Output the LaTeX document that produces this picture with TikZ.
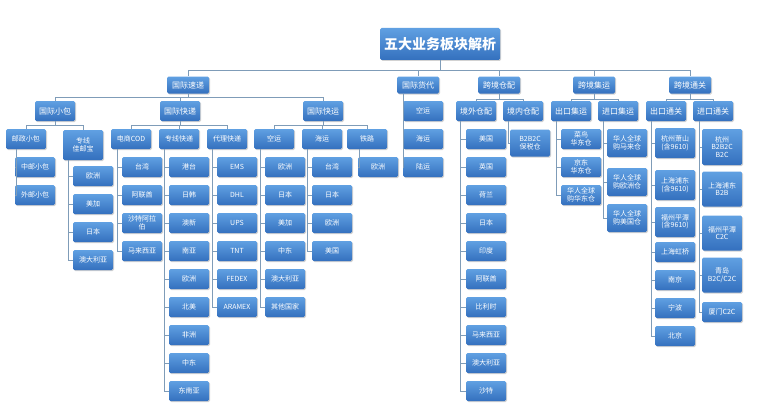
\documentclass[tikz,border=0pt]{standalone}
\usepackage{fontspec}
\setmainfont{Noto Sans CJK SC}
\usetikzlibrary{shadows,calc}
\definecolor{lncol}{HTML}{7F9CB8}
\tikzset{
 bx/.style={rounded corners=1.5pt,top color=blue!20!cyan!40!blue!60!white!0!black!0!white,bottom color=white,draw=none},
 box/.style={rounded corners=1.5pt,top color={rgb,255:red,96;green,160;blue,226},bottom color={rgb,255:red,52;green,112;blue,190},text=white,align=center,inner sep=1pt,drop shadow={opacity=0.35,shadow xshift=1pt,shadow yshift=-1pt},font=\fontsize{7}{7.5}\selectfont},
 leaf/.style={box,minimum width=40pt,minimum height=20pt},
 lv1/.style={box,minimum width=42pt,minimum height=17pt,font=\fontsize{8}{9}\selectfont},
 lv2/.style={box,minimum width=40pt,minimum height=20pt,font=\fontsize{8}{9}\selectfont},
 root/.style={box,minimum width=120pt,minimum height=32pt,font=\fontsize{14}{16}\selectfont\bfseries},
 ln/.style={draw=lncol,line width=0.8pt}
}
\newcommand\tc[3]{\draw[ln] (#1.south) |- (#2.north |- 0,#3) -- (#2.north);}
\newcommand\vc[3]{\draw[ln] (#1.south -| #2,0) |- (#3.west);}
\begin{document}
\begin{tikzpicture}[x=1pt,y=-1pt]
\useasboundingbox (0,0) rectangle (760,412);
\fill[white] (0,0) rectangle (760,412);
\node[root] (r) at (440,44) {五大业务板块解析};
\node[lv1] (sd) at (188,85) {国际速递};
\node[lv1] (hd) at (418,85) {国际货代};
\node[lv1] (cp) at (499,85) {跨境仓配};
\node[lv1] (jy) at (594,85) {跨境集运};
\node[lv1] (tg) at (690,85) {跨境通关};
\foreach \c in {sd,hd,cp,jy,tg}{\tc{r}{\c}{70}}
% level 2
\node[lv2] (xb) at (55,111) {国际小包};
\node[lv2] (kd) at (180,111) {国际快递};
\node[lv2] (ky) at (323,111) {国际快运};
\foreach \c in {xb,kd,ky}{\tc{sd}{\c}{97}}
\node[leaf] (hk) at (423,111) {空运};
\node[leaf] (hh) at (423,139) {海运};
\node[leaf] (hl) at (423,167) {陆运};
\foreach \c in {hk,hh,hl}{\vc{hd}{403}{\c}}
\node[lv2] (jw) at (476,111) {境外仓配};
\node[lv2] (jn) at (523,111) {境内仓配};
\node[lv2] (ck) at (571,111) {出口集运};
\node[lv2] (jk) at (618,111) {进口集运};
\node[lv2] (ct) at (666,111) {出口通关};
\node[lv2] (jt) at (713,111) {进口通关};
\tc{cp}{jw}{99}\tc{cp}{jn}{99}
\tc{jy}{ck}{99}\tc{jy}{jk}{99}
\tc{tg}{ct}{99}\tc{tg}{jt}{99}
% level 3
\node[leaf] (yz) at (26,139) {邮政小包};
\node[leaf,minimum height=30pt] (jyb) at (83,145) {专线\\佳邮宝};
\node[leaf] (cod) at (131,139) {电商COD};
\node[leaf] (zx) at (179,139) {专线快递};
\node[leaf] (dl) at (227,139) {代理快递};
\node[leaf] (kk) at (274,139) {空运};
\node[leaf] (kh) at (322,139) {海运};
\node[leaf] (kt) at (367,139) {铁路};
\tc{xb}{yz}{125}\tc{xb}{jyb}{125}
\foreach \c in {cod,zx,dl}{\tc{kd}{\c}{125}}
\foreach \c in {kk,kh,kt}{\tc{ky}{\c}{125}}
% leaves
\foreach \t [count=\i] in {中邮小包,外邮小包}{\node[leaf] (a\i) at (35,{167+28*(\i-1)}) {\t};\vc{yz}{16}{a\i}}
\foreach \t [count=\i] in {欧洲,美加,日本,澳大利亚}{\node[leaf] (b\i) at (93,{176+28*(\i-1)}) {\t};\vc{jyb}{68}{b\i}}
\foreach \t [count=\i] in {台湾,阿联酋,沙特阿拉\\伯,马来西亚}{\node[leaf] (c\i) at (142,{167+28*(\i-1)}) {\t};\vc{cod}{117}{c\i}}
\foreach \t [count=\i] in {港台,日韩,澳新,南亚,欧洲,北美,非洲,中东,东南亚}{\node[leaf] (d\i) at (189,{167+28*(\i-1)}) {\t};\vc{zx}{164}{d\i}}
\foreach \t [count=\i] in {EMS,DHL,UPS,TNT,FEDEX,ARAMEX}{\node[leaf] (e\i) at (237,{167+28*(\i-1)}) {\t};\vc{dl}{212}{e\i}}
\foreach \t [count=\i] in {欧洲,日本,美加,中东,澳大利亚,其他国家}{\node[leaf] (f\i) at (285,{167+28*(\i-1)}) {\t};\vc{kk}{260}{f\i}}
\foreach \t [count=\i] in {台湾,日本,欧洲,美国}{\node[leaf] (g\i) at (332,{167+28*(\i-1)}) {\t};\vc{kh}{307}{g\i}}
\node[leaf] (h1) at (378,167) {欧洲};\vc{kt}{359}{h1}
\foreach \t [count=\i] in {美国,英国,荷兰,日本,印度,阿联酋,比利时,马来西亚,澳大利亚,沙特}{\node[leaf] (i\i) at (486,{139+28*(\i-1)}) {\t};\vc{jw}{460}{i\i}}
\node[leaf,minimum height=27pt] (j1) at (530,143) {B2B2C\\保税仓};\vc{jn}{508}{j1}
\node[leaf,minimum height=20pt] (k1) at (581,139) {菜鸟\\华东仓};
\node[leaf,minimum height=20pt] (k2) at (581,167) {京东\\华东仓};
\node[leaf,minimum height=20pt] (k3) at (581,195) {华人全球\\购华东仓};
\foreach \c in {k1,k2,k3}{\vc{ck}{556}{\c}}
\node[leaf,minimum height=28pt] (l1) at (627,143) {华人全球\\购马来仓};
\node[leaf,minimum height=28pt] (l2) at (627,182) {华人全球\\购欧洲仓};
\node[leaf,minimum height=28pt] (l3) at (627,218) {华人全球\\购美国仓};
\foreach \c in {l1,l2,l3}{\vc{jk}{603}{\c}}
\node[leaf,minimum height=30pt] (m1) at (675,143) {杭州萧山\\(含9610)};
\node[leaf,minimum height=30pt] (m2) at (675,185) {上海浦东\\(含9610)};
\node[leaf,minimum height=30pt] (m3) at (675,222) {福州平潭\\(含9610)};
\node[leaf] (m4) at (675,252) {上海虹桥};
\node[leaf] (m5) at (675,280) {南京};
\node[leaf] (m6) at (675,308) {宁波};
\node[leaf] (m7) at (675,336) {北京};
\foreach \c in {m1,m2,m3,m4,m5,m6,m7}{\vc{ct}{651}{\c}}
\node[leaf,minimum height=36pt] (n1) at (722,147) {杭州\\B2B2C\\B2C};
\node[leaf,minimum height=35pt] (n2) at (722,189) {上海浦东\\B2B};
\node[leaf,minimum height=35pt] (n3) at (722,233) {福州平潭\\C2C};
\node[leaf,minimum height=35pt] (n4) at (722,275) {青岛\\B2C/C2C};
\node[leaf] (n5) at (722,312) {厦门C2C};
\foreach \c in {n1,n2,n3,n4,n5}{\vc{jt}{699}{\c}}
\end{tikzpicture}
\end{document}
